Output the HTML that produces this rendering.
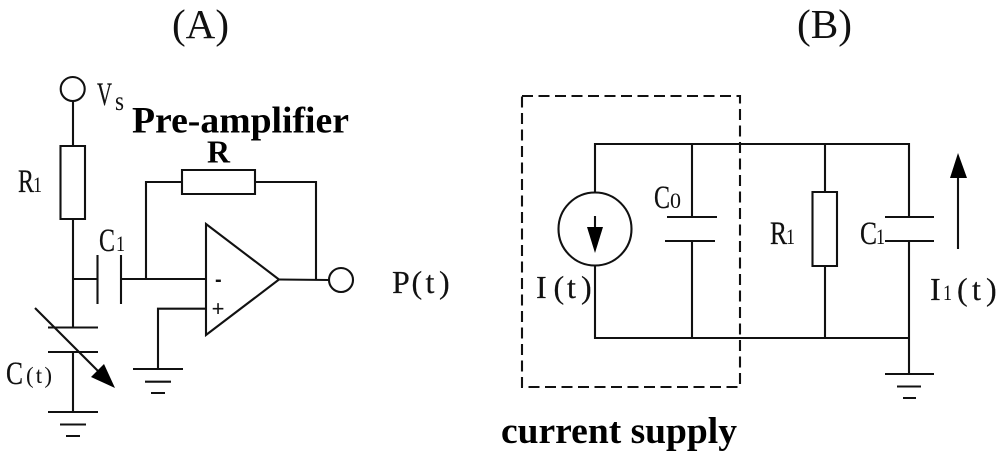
<!DOCTYPE html>
<html>
<head>
<meta charset="utf-8">
<style>
html,body{margin:0;padding:0;background:#fff;width:1000px;height:458px;overflow:hidden}
svg{display:block}
text{font-family:"Liberation Serif",serif;fill:#111}
.b{font-weight:bold;font-size:37.5px;fill:#000}
.l{font-size:33px;stroke:#111;stroke-width:.25}
.p{font-size:32px;stroke:#111;stroke-width:.2}
.s{font-size:22px}
</style>
</head>
<body>
<svg width="1000" height="458" viewBox="0 0 1000 458" xmlns="http://www.w3.org/2000/svg">
<rect width="1000" height="458" fill="#fff"/>
<g fill="none" stroke="#111" stroke-width="2.1">
<!-- A: Vs branch -->
<circle cx="72.7" cy="89" r="12"/>
<path d="M73 101V146M73 219V327M60.5 146H85V219H60.5Z"/>
<!-- C1 -->
<path d="M73 279H97.5M97.5 255V304M121 255V304M121 279H206"/>
<!-- C(t) -->
<path d="M48 327.5H98M48 352H98M73 352V412M48 412H98M60 424.5H86M66 436H80"/>
<path d="M35 308L100 373"/>
<!-- feedback -->
<path d="M146 279V182H182M182 170H255V194H182ZM255 182H316V280"/>
<!-- op amp -->
<path d="M206 224L279 279.5L206 335Z"/>
<path d="M279 279.5L329 280"/>
<circle cx="341" cy="280" r="12"/>
<!-- + input and ground -->
<path d="M206 308.7H158V369M133 369H183M145 381.7H171M151 393H165"/>
<!-- B: dashed box -->
<rect x="522" y="96" width="218" height="291" stroke-dasharray="11 5.5"/>
<!-- B: wires -->
<path d="M595 192V144H909V217M595 266V338H909V241M909 338V374"/>
<circle cx="595" cy="229" r="36.5"/>
<path d="M595 216V232"/>
<!-- C0 -->
<path d="M692 144V217M667 217H717M665 241H715M692 241V338"/>
<!-- R1 -->
<path d="M825 144V192M812.5 192H837V266H812.5ZM825 266V338"/>
<!-- C1 -->
<path d="M885 217H934M885 241H934"/>
<!-- ground -->
<path d="M885 374H934M897 386.5H921M903 398H916"/>
<!-- current arrow -->
<path d="M958 249V176"/>
</g>
<g fill="#000" stroke="none">
<polygon points="115,388 91,377 104,364"/>
<polygon points="587,227 603,227 595,253"/>
<polygon points="958,153 950,178 967,178"/>
</g>

<text x="172" y="38" font-size="41" textLength="57" lengthAdjust="spacingAndGlyphs">(A)</text>
<text x="797" y="38" font-size="41" textLength="55" lengthAdjust="spacingAndGlyphs">(B)</text>

<text class="b" x="132" y="132.5" textLength="217" lengthAdjust="spacingAndGlyphs">Pre-amplifier</text>
<text class="b" x="207" y="162.5" style="font-size:32px" textLength="23" lengthAdjust="spacingAndGlyphs">R</text>
<text class="b" x="501" y="443" textLength="236" lengthAdjust="spacingAndGlyphs">current supply</text>

<text class="l" x="97" y="105" textLength="15" lengthAdjust="spacingAndGlyphs">V</text>
<text x="115" y="110" font-size="27" textLength="9" lengthAdjust="spacingAndGlyphs">s</text>
<text class="l" x="18" y="192" textLength="16" lengthAdjust="spacingAndGlyphs">R</text>
<text class="s" x="33" y="192" textLength="9" lengthAdjust="spacingAndGlyphs">1</text>
<text class="l" x="99" y="251" textLength="16" lengthAdjust="spacingAndGlyphs">C</text>
<text class="s" x="116" y="251" textLength="9" lengthAdjust="spacingAndGlyphs">1</text>
<text class="l" x="6" y="384" textLength="17" lengthAdjust="spacingAndGlyphs">C</text>
<text x="26" y="383" font-size="23" textLength="26" lengthAdjust="spacing">(t)</text>
<text class="p" x="392 411.5 425.5 439" y="293">P(t)</text>
<text x="215" y="286" font-size="20" font-weight="bold" style="font-family:'Liberation Sans',sans-serif">-</text>
<text x="211.6" y="316" font-size="22" style="font-family:'Liberation Sans',sans-serif">+</text>

<text class="p" x="536 553.5 567 581" y="298">I(t)</text>
<text class="l" x="654" y="208" textLength="16" lengthAdjust="spacingAndGlyphs">C</text>
<text class="s" x="670" y="208" textLength="11" lengthAdjust="spacingAndGlyphs">0</text>
<text class="l" x="770" y="244" textLength="17" lengthAdjust="spacingAndGlyphs">R</text>
<text class="s" x="786" y="244" textLength="9" lengthAdjust="spacingAndGlyphs">1</text>
<text class="l" x="860" y="244" textLength="17" lengthAdjust="spacingAndGlyphs">C</text>
<text class="s" x="876" y="244" textLength="9" lengthAdjust="spacingAndGlyphs">1</text>
<text class="p" x="930" y="300">I</text>
<text class="s" x="943" y="300" textLength="9" lengthAdjust="spacingAndGlyphs">1</text>
<text class="p" x="957 972 986" y="300">(t)</text>
</svg>
</body>
</html>
